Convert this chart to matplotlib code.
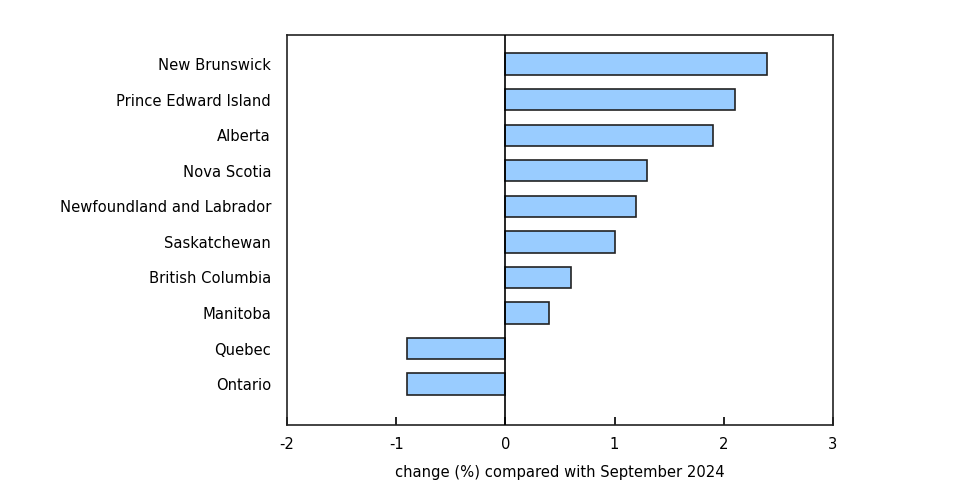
import matplotlib

matplotlib.use("Agg")
import matplotlib.pyplot as plt

provinces = [
    "New Brunswick",
    "Prince Edward Island",
    "Alberta",
    "Nova Scotia",
    "Newfoundland and Labrador",
    "Saskatchewan",
    "British Columbia",
    "Manitoba",
    "Quebec",
    "Ontario",
]
change = [2.4, 2.1, 1.9, 1.3, 1.2, 1.0, 0.6, 0.4, -0.9, -0.9]
x_ticks = [-2, -1, 0, 1, 2, 3]
x_label = "change (%) compared with September 2024"

plt.rcParams["font.family"] = ["DejaVu Sans"]
plt.rcParams["font.size"] = 10.6

fig = plt.figure(figsize=(9.64, 4.94), dpi=100)
ax = fig.add_axes([0.2977, 0.1397, 0.5664, 0.7895])

pos = list(range(len(provinces)))[::-1]
ax.barh(pos, change, height=0.6, color="#99CCFF", edgecolor="#222222", linewidth=1.2, zorder=2)
ax.axvline(0, color="black", linewidth=1.2, zorder=3)

ax.set_xlim(-2, 3)
ax.set_ylim(-1.15, 9.82)
ax.set_xticks(x_ticks)
ax.set_xticklabels([str(t) for t in x_ticks])
ax.set_yticks(pos)
ax.set_yticklabels(provinces)
ax.tick_params(axis="y", length=0, pad=11.5)
ax.tick_params(axis="x", direction="in", length=6, width=1.2, pad=9)
for spine in ax.spines.values():
    spine.set_linewidth(1.2)
    spine.set_color("#222222")
ax.set_xlabel(x_label, labelpad=9)

fig.savefig("out.png", dpi=100)
